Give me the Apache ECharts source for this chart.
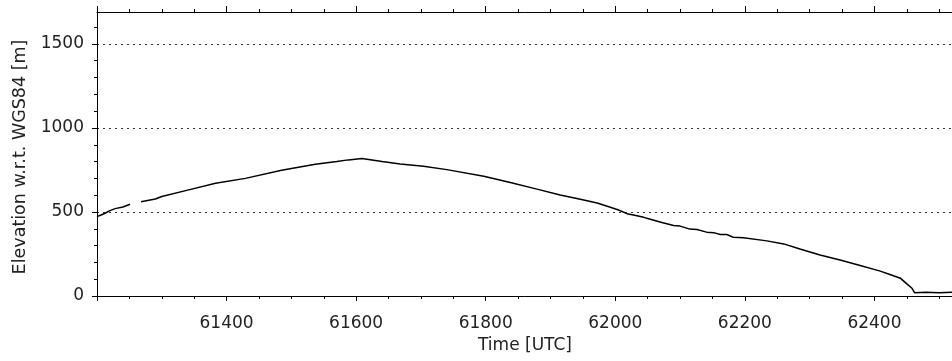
<!DOCTYPE html>
<html>
<head>
<meta charset="utf-8">
<script src="https://cdn.jsdelivr.net/npm/echarts@6/dist/echarts.min.js"></script>
<style>
html,body{margin:0;padding:0;background:#fff;}
#chart{width:952px;height:361px;}
</style>
</head>
<body>
<div id="chart"></div>
<script>
// Time [UTC] (seconds of day)
const times = [61200, 61210, 61220, 61228, 61240, 61251, 61259, 61268, 61280, 61290, 61300, 61340, 61383, 61429, 61485, 61537, 61570, 61588, 61609, 61640, 61668, 61704, 61740, 61797, 61838, 61879, 61915, 61946, 61972, 61990, 62005, 62018, 62028, 62044, 62054, 62072, 62090, 62100, 62115, 62126, 62141, 62152, 62162, 62172, 62182, 62198, 62234, 62260, 62285, 62316, 62347, 62378, 62409, 62424, 62440, 62450, 62458, 62461, 62462, 62480, 62500, 62520, 62540];
// Elevation w.r.t. WGS84 [m]; null = data gap
const elevation = [472, 488, 508, 520, 530, 546, null, 561, 570, 577, 592, 630, 671, 700, 748, 784, 800, 810, 818, 800, 786, 772, 752, 712, 676, 636, 601, 576, 553, 531, 512, 490, 482, 468, 457, 437, 420, 416, 398, 396, 380, 377, 366, 366, 350, 346, 328, 310, 280, 244, 214, 182, 148, 128, 106, 72, 46, 44, 20, 22, 20, 23, 21];
const xTickLabels = [61400, 61600, 61800, 62000, 62200, 62400];
const yMajorTicks = [0, 500, 1000, 1500];
const yMinorTicks = [100, 200, 300, 400, 600, 700, 800, 900, 1100, 1200, 1300, 1400, 1600];
const xTitle = 'Time [UTC]';
const yTitle = 'Elevation w.r.t. WGS84 [m]';

const FONT = 'DejaVu Sans';
const TXT = '#222';
const chart = echarts.init(document.getElementById('chart'));
const lineData = times.map((t, i) => [t, elevation[i] === null ? '-' : elevation[i]]);
const plain = v => String(v);

const xBase = {
  type: 'value', min: 61200, max: 62600, interval: 200,
  axisLine: {show: true, onZero: false, lineStyle: {color: '#000', width: 1}},
  minorTick: {show: true, splitNumber: 4, length: 3, lineStyle: {color: '#000', width: 1}},
  splitLine: {show: false}, minorSplitLine: {show: false}
};

chart.setOption({
  animation: false,
  backgroundColor: '#fff',
  grid: {left: 97, top: 12, width: 907, height: 284, containLabel: false, outerBoundsMode: 'none'},
  xAxis: [
    Object.assign({}, xBase, {
      position: 'bottom',
      axisTick: {show: true, inside: false, length: 5, lineStyle: {color: '#000', width: 1}},
      axisLabel: {show: true, margin: 19, fontSize: 17, fontFamily: FONT, color: TXT, formatter: plain, customValues: xTickLabels}
    }),
    Object.assign({}, xBase, {
      position: 'top',
      axisTick: {show: true, inside: false, length: 6, lineStyle: {color: '#000', width: 1}},
      axisLabel: {show: false}
    })
  ],
  yAxis: [
    {
      type: 'value', position: 'left', min: 0, max: 1690, interval: 500,
      axisLine: {show: true, onZero: false, lineStyle: {color: '#000', width: 1}},
      axisTick: {show: true, length: 5, customValues: yMajorTicks, lineStyle: {color: '#000', width: 1}},
      axisLabel: {show: true, margin: 13, fontSize: 17, fontFamily: FONT, color: TXT, customValues: yMajorTicks, formatter: plain},
      splitLine: {show: true, showMinLine: false, lineStyle: {color: '#333', width: 1, type: [2, 4]}}
    },
    {
      type: 'value', position: 'left', min: 0, max: 1690, interval: 100,
      axisLine: {show: false, onZero: false},
      axisTick: {show: true, length: 3, customValues: yMinorTicks, lineStyle: {color: '#000', width: 1}},
      axisLabel: {show: false},
      splitLine: {show: false}
    }
  ],
  graphic: [
    {type: 'text', x: 525, y: 346, style: {text: xTitle, fontSize: 17, fontFamily: FONT, fill: TXT, align: 'center', verticalAlign: 'middle'}},
    {type: 'text', x: 20, y: 157, rotation: Math.PI / 2, style: {text: yTitle, fontSize: 17.5, fontFamily: FONT, fill: TXT, align: 'center', verticalAlign: 'middle'}}
  ],
  series: [{
    type: 'line', xAxisIndex: 0, yAxisIndex: 0,
    data: lineData, showSymbol: false, symbol: 'none', connectNulls: false,
    lineStyle: {color: '#000', width: 1.5}, clip: true
  }]
});
</script>
</body>
</html>
